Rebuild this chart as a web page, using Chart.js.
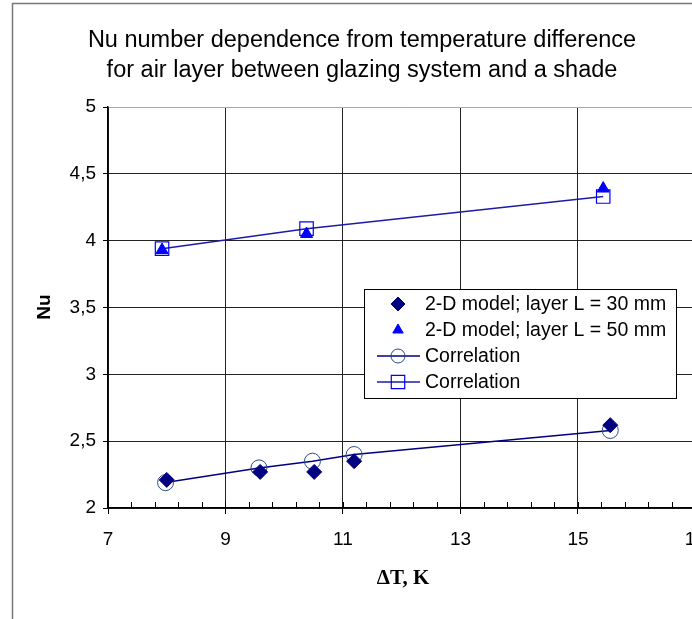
<!DOCTYPE html>
<html>
<head>
<meta charset="utf-8">
<script src="https://cdn.jsdelivr.net/npm/chart.js@4/dist/chart.umd.min.js"></script>
<style>
  html, body { margin: 0; padding: 0; background: #fff; overflow: hidden; }
  #wrap { width: 720px; height: 619px; }
</style>
</head>
<body>
<div id="wrap"><canvas id="c" width="720" height="619"></canvas></div>
<script>
// values
const dt30 = [8.0, 9.59, 10.51, 11.19, 15.55];
const nu30 = [2.21, 2.27, 2.27, 2.35, 2.62];
const corrDt30 = [7.98, 9.57, 10.48, 11.19, 15.55];
const corrNu30 = [2.19, 2.30, 2.35, 2.40, 2.58];
const dt50 = [7.92, 10.38, 15.43];
const nu50 = [3.93, 4.05, 4.39];
const corrNu50 = [3.94, 4.09, 4.33];
const xTicks = [7, 9, 11, 13, 15, 17];
const titleLines = ['Nu number dependence from temperature difference', 'for air layer between glazing system and a shade'];

const pts = (xs, ys) => xs.map((x, i) => ({x, y: ys[i]}));
const FONT = "'Liberation Sans', Arial, sans-serif";

const decor = {
    id: 'decor',
    afterDraw(chart) {
        const ctx = chart.ctx, a = chart.chartArea;
        const xs = chart.scales.x;
        ctx.save();
        // outer frame
        ctx.strokeStyle = '#777';
        ctx.lineWidth = 1.5;
        ctx.beginPath();
        ctx.moveTo(12.5, 625); ctx.lineTo(12.5, 3.5); ctx.lineTo(720, 3.5);
        ctx.stroke();
        // minor ticks on x axis (inside)
        ctx.strokeStyle = '#000';
        ctx.lineWidth = 1;
        for (let v = 7; v < 17.01; v += 0.4) {
            const px = Math.round(xs.getPixelForValue(v)) + 0.5;
            ctx.beginPath(); ctx.moveTo(px, a.bottom); ctx.lineTo(px, a.bottom - 6); ctx.stroke();
        }
        // titles
        ctx.fillStyle = '#000';
        ctx.textAlign = 'center';
        ctx.textBaseline = 'middle';
        ctx.font = '23.5px ' + FONT;
        titleLines.forEach((t, i) => ctx.fillText(t, 362, 41 + i * 30));
        ctx.font = 'bold 21px "Liberation Serif", "Times New Roman", serif';
        ctx.fillText('\u0394T, K', 403, 579);
        ctx.save();
        ctx.translate(45, 307);
        ctx.rotate(-Math.PI / 2);
        ctx.font = 'bold 19px ' + FONT;
        ctx.fillText('Nu', 0, 0);
        ctx.restore();
        // legend
        const lx = 364.5, ly = 289.5, lw = 312, lh = 109;
        ctx.fillStyle = '#fff';
        ctx.fillRect(lx, ly, lw, lh);
        ctx.strokeStyle = '#000';
        ctx.lineWidth = 1;
        ctx.strokeRect(lx, ly, lw, lh);
        const rows = [304, 330, 356, 382];
        chart.data.datasets.forEach((ds, i) => {
            const y = rows[i];
            if (ds.showLine) {
                ctx.strokeStyle = ds.borderColor;
                ctx.lineWidth = 1.5;
                ctx.beginPath(); ctx.moveTo(377, y); ctx.lineTo(420, y); ctx.stroke();
            }
            ctx.fillStyle = ds.pointBackgroundColor;
            ctx.strokeStyle = ds.pointBorderColor;
            ctx.lineWidth = ds.pointBorderWidth || 1;
            Chart.helpers.drawPoint(ctx, {pointStyle: ds.pointStyle, radius: ds.legendRadius,
                borderWidth: ds.pointBorderWidth || 1, rotation: 0}, 398, y);
            ctx.fillStyle = '#000';
            ctx.font = '19.5px ' + FONT;
            ctx.textAlign = 'left';
            ctx.fillText(ds.label, 425, y + 1);
        });
        ctx.restore();
    }
};

new Chart(document.getElementById('c'), {
    type: 'scatter',
    data: {
        datasets: [
            {label: '2-D model; layer L = 30 mm', data: pts(dt30, nu30), pointStyle: 'rectRot', pointRadius: 7.5,
             pointBackgroundColor: '#000080', pointBorderColor: '#000080', borderColor: '#000080', showLine: false, order: 0, legendRadius: 7},
            {label: '2-D model; layer L = 50 mm', data: pts(dt50, nu50), pointStyle: 'triangle', pointRadius: 7,
             pointBackgroundColor: '#0000ff', pointBorderColor: '#0000ff', borderColor: '#0000ff', showLine: false, order: 0, legendRadius: 6},
            {label: 'Correlation', data: pts(corrDt30, corrNu30), pointStyle: 'circle', pointRadius: 8,
             pointBackgroundColor: 'rgba(255,255,255,0)', pointBorderColor: '#2a4b86', pointBorderWidth: 1,
             borderColor: '#000080', borderWidth: 1.5, showLine: true, tension: 0, order: 1, legendRadius: 7},
            {label: 'Correlation', data: pts(dt50, corrNu50), pointStyle: 'rect', pointRadius: 9.5,
             pointBackgroundColor: 'rgba(255,255,255,0)', pointBorderColor: '#0000ff', pointBorderWidth: 1.2,
             borderColor: '#1c1ca8', borderWidth: 1.5, showLine: true, tension: 0, order: 1, legendRadius: 9.5}
        ]
    },
    options: {
        responsive: false,
        animation: false,
        layout: {padding: {left: 0, right: 10, top: 107, bottom: 0}},
        plugins: {legend: {display: false}, tooltip: {enabled: false}},
        scales: {
            x: {
                type: 'linear', min: 7, max: 17,
                afterBuildTicks: s => { s.ticks = xTicks.map(v => ({value: v})); },
                afterFit: s => { s.height = 111; },
                grid: {color: '#222', lineWidth: 1, tickLength: 6, tickColor: '#000'},
                border: {color: '#000', width: 1.5},
                ticks: {color: '#000', font: {family: FONT, size: 19}, padding: 14, maxRotation: 0}
            },
            y: {
                type: 'linear', min: 2, max: 5,
                ticks: {stepSize: 0.5, color: '#000', font: {family: FONT, size: 19}, padding: 7,
                        callback: v => String(v).replace('.', ',')},
                afterFit: s => { s.width = 108; },
                grid: {color: c => c.tick && c.tick.value === 5 ? '#aaa' : '#222', lineWidth: 1, tickLength: 5, tickColor: '#000'},
                border: {color: '#000', width: 1.5}
            }
        }
    },
    plugins: [decor]
});
</script>
</body>
</html>
